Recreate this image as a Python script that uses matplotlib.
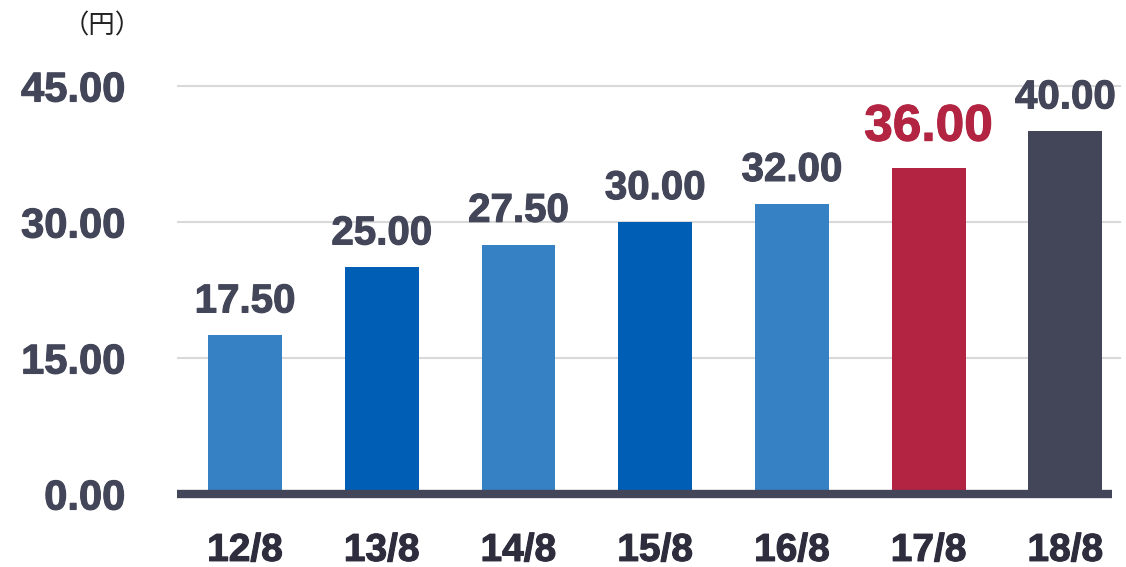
import matplotlib.pyplot as plt
import matplotlib.patheffects as pe

# data
periods = ['12/8', '13/8', '14/8', '15/8', '16/8', '17/8', '18/8']
dividends = [17.50, 25.00, 27.50, 30.00, 32.00, 36.00, 40.00]
yticks = [0, 15, 30, 45]

colors = ['#3680C4', '#005EB5', '#3680C4', '#005EB5', '#3680C4', '#B22442', '#434658']
label_colors = ['#434658'] * 5 + ['#B22442', '#434658']

plt.rcParams['font.family'] = ['Liberation Sans', 'DejaVu Sans']

fig = plt.figure(figsize=(11.26, 5.67), dpi=100)
ax = fig.add_axes([178 / 1126, 1 - 494 / 567, 942 / 1126, 408 / 567])

x = range(len(periods))
ax.bar(x, dividends, width=0.54, color=colors, zorder=2)

ax.set_xlim(-0.49, 6.40)
ax.set_ylim(0, 45)

# grid and base line
for v in yticks[1:]:
    ax.axhline(v, color='#D9D9D9', lw=1.5, zorder=1, clip_on=False)
ax.axhline(0, xmin=-1 / 942, xmax=(1112 - 178) / 942, color='#434658', lw=6,
           solid_capstyle='butt', zorder=3, clip_on=False)

for s in ax.spines.values():
    s.set_visible(False)


def heavy(color):
    # thicken the bold glyphs a little, the original font is heavier
    return [pe.withStroke(linewidth=0.8, foreground=color)]


ax.set_yticks(yticks)
ax.set_yticklabels(['%.2f' % v for v in yticks], fontsize=30, fontweight='bold',
                   color='#434658')
for t in ax.get_yticklabels():
    t.set_path_effects(heavy('#434658'))
ax.tick_params(axis='y', length=0, pad=38)
ax.set_xticks(list(x))
ax.set_xticklabels(periods, fontsize=28, fontweight='bold', color='#2E2D3D')
for t in ax.get_xticklabels():
    t.set_path_effects(heavy('#2E2D3D'))
ax.tick_params(axis='x', length=0, pad=28)

# value labels
for i, v in enumerate(dividends):
    big = i == 5
    ax.annotate('%.2f' % v, (i, v), xytext=(0, 19.4 if big else 16.5),
                textcoords='offset points', ha='center', va='baseline',
                fontsize=37 if big else 29, fontweight='bold',
                color=label_colors[i], annotation_clip=False,
                path_effects=heavy(label_colors[i]))

fig.text(102 / 1126, 1 - 26 / 567, '（円）', ha='center', va='center', fontsize=19,
         family=['Noto Sans CJK JP', 'DejaVu Sans'], color='#222222')

fig.savefig('out.png', dpi=100)
